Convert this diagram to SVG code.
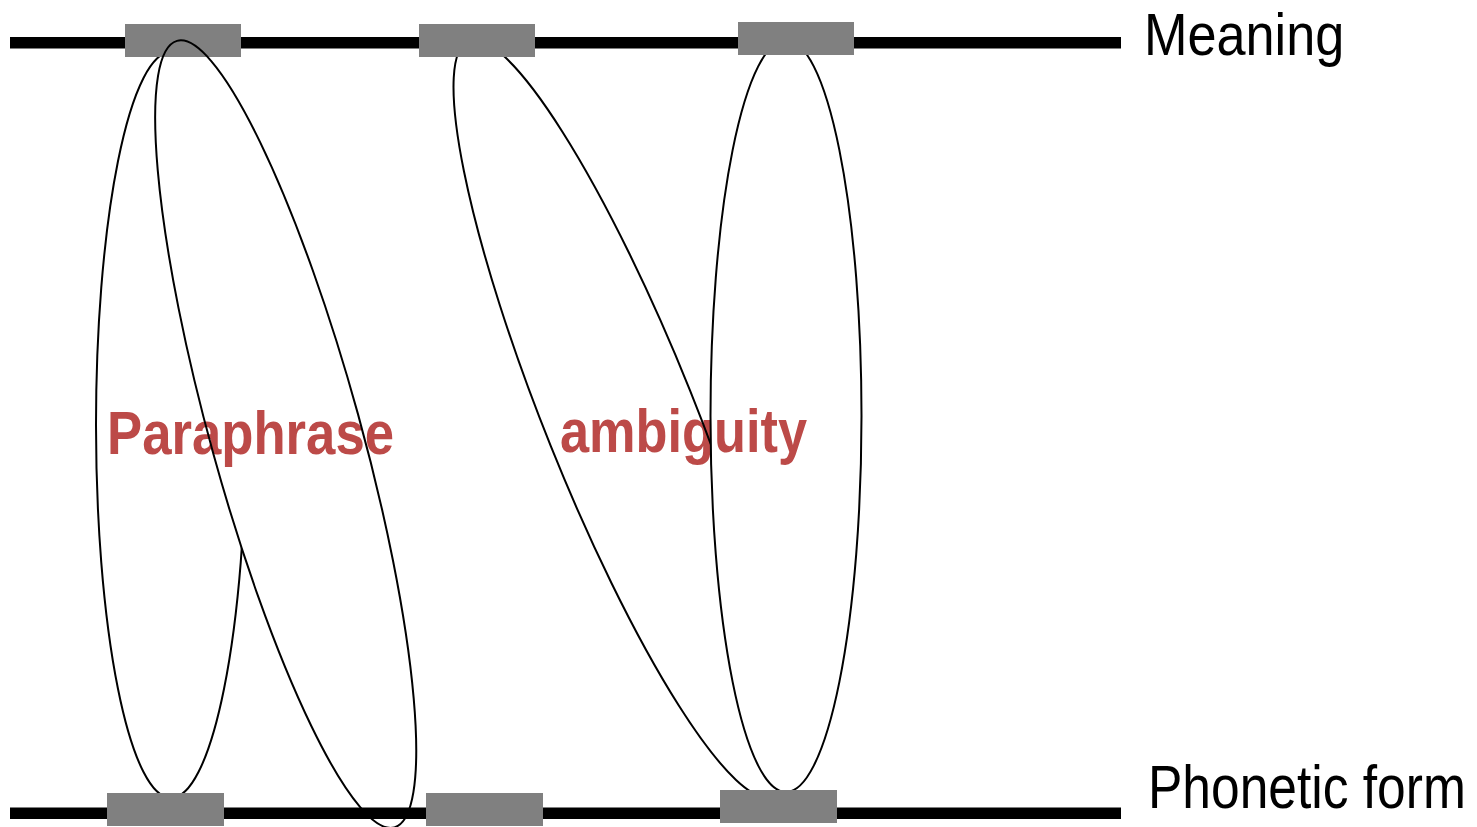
<svg xmlns="http://www.w3.org/2000/svg" width="1477" height="827" viewBox="0 0 1477 827">
  <style>
    .axis { fill: #000000; }
    .box { fill: #808080; }
    .loop { fill: none; stroke: #000000; stroke-width: 2; }
    .label { font-family: "Liberation Sans", Arial, sans-serif; fill: #000000; }
    .tag { font-family: "Liberation Sans", Arial, sans-serif; font-weight: bold; fill: #BC4A48; }
  </style>
  <defs>
    <mask id="m-behind-para" maskUnits="userSpaceOnUse" x="0" y="0" width="1477" height="827">
      <rect x="0" y="0" width="1477" height="827" fill="#fff"/>
      <ellipse cx="0" cy="0" rx="75" ry="408" transform="translate(285.7 434.1) rotate(-15.45)" fill="#000"/>
    </mask>
    <mask id="m-behind-amb" maskUnits="userSpaceOnUse" x="0" y="0" width="1477" height="827">
      <rect x="0" y="0" width="1477" height="827" fill="#fff"/>
      <ellipse cx="786" cy="416" rx="75.5" ry="376" fill="#000"/>
    </mask>
  </defs>

  <rect id="line-meaning" class="axis" x="10" y="37" width="1111" height="11.5"/>
  <rect id="line-phonetic" class="axis" x="10" y="807.5" width="1111" height="11.5"/>

  <g id="label-paraphrase">
    <text class="tag" x="107" y="454" font-size="62" textLength="287" lengthAdjust="spacingAndGlyphs">Paraphrase</text>
  </g>
  <g id="label-ambiguity">
    <text class="tag" x="560" y="451.7" font-size="62" textLength="247" lengthAdjust="spacingAndGlyphs">ambiguity</text>
  </g>

  <g id="connectors">
    <g mask="url(#m-behind-para)">
      <ellipse id="para-left" class="loop" cx="171" cy="425" rx="75" ry="373"/>
    </g>
    <g mask="url(#m-behind-amb)">
      <ellipse id="amb-left" class="loop" cx="0" cy="0" rx="75" ry="407" transform="translate(620.5 418.5) rotate(-21.9)"/>
    </g>
    <ellipse id="amb-right" class="loop" cx="786" cy="416" rx="75.5" ry="376"/>
  </g>

  <g id="meaning-1"><rect class="box" x="125" y="24" width="116" height="33"/></g>
  <g id="meaning-2"><rect class="box" x="419" y="24" width="116" height="33"/></g>
  <g id="meaning-3"><rect class="box" x="738" y="22" width="116" height="33"/></g>
  <g id="form-1"><rect class="box" x="107" y="793" width="117" height="33"/></g>
  <g id="form-2"><rect class="box" x="426" y="793" width="117" height="33"/></g>
  <g id="form-3"><rect class="box" x="720" y="790" width="117" height="33"/></g>

  <g id="connectors-front">
    <ellipse id="para-right" class="loop" cx="0" cy="0" rx="75" ry="408" transform="translate(285.7 434.1) rotate(-15.45)"/>
  </g>

  <g id="label-meaning">
    <text class="label" x="0" y="0" font-size="60" transform="translate(1144 54.5) scale(0.87 1)">Meaning</text>
  </g>
  <g id="label-phonetic">
    <text class="label" x="0" y="0" font-size="62" transform="translate(1148 808) scale(0.831 1)">Phonetic form</text>
  </g>
</svg>
